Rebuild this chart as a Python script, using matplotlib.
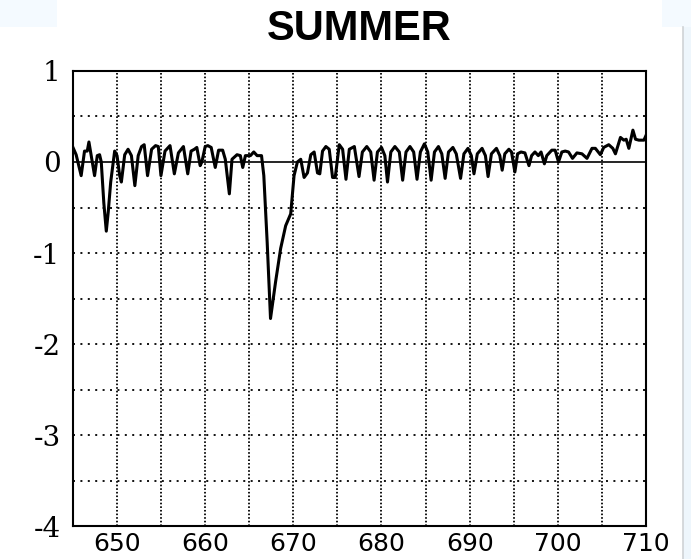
#!/usr/bin/env python3
"""Summer anomaly trace with dotted grid, saved to out.png."""

import matplotlib.pyplot as plt
from matplotlib.lines import Line2D
from matplotlib.patches import Rectangle

# Trace values (x = index, y = anomaly)
xs = [645.0, 645.36, 645.93, 646.31, 646.62, 646.81, 647.07, 647.45, 647.76, 648.02,
      648.21, 648.5, 648.78, 649.0, 649.28, 649.73, 650.0, 650.3, 650.49, 650.87,
      651.25, 651.63, 652.02, 652.4, 652.78, 653.08, 653.46, 653.92, 654.37, 654.68,
      654.98, 655.44, 656.01, 656.5, 656.96, 657.53, 658.02, 658.4, 658.78, 659.05,
      659.43, 659.62, 660.0, 660.3, 660.68, 661.14, 661.52, 661.98, 662.28, 662.74,
      663.04, 663.61, 663.99, 664.26, 664.56, 665.13, 665.51, 665.89, 666.39, 666.65,
      667.03, 667.41, 667.98, 668.56, 669.13, 669.7, 670.08, 670.46, 670.84, 671.22,
      671.6, 671.98, 672.36, 672.74, 673.0, 673.31, 673.69, 674.07, 674.45, 674.75,
      675.21, 675.59, 675.97, 676.35, 676.92,
      677.45, 677.83, 678.33, 678.78, 679.16, 679.54, 680.0, 680.38, 680.68, 681.06,
      681.52, 682.02, 682.4, 682.78, 683.23, 683.65, 684.03, 684.41, 684.87, 685.25,
      685.63, 686.01, 686.46, 686.84, 687.22, 687.6, 688.1, 688.48, 688.97, 689.35,
      689.81, 690.19, 690.49, 690.87, 691.41, 691.79, 692.09, 692.47, 693.04, 693.42,
      693.69, 693.99, 694.45, 694.75, 695.13, 695.44, 695.82, 696.27, 696.73, 697.03,
      697.41, 697.79, 698.1, 698.48, 698.75, 699.32, 699.7, 700.08, 700.46, 700.84,
      701.22, 701.67, 702.17, 702.74, 703.31, 703.88, 704.26, 704.83, 705.21, 705.78,
      706.24, 706.54, 707.11, 707.49, 707.76, 708.06, 708.52, 708.82, 709.2, 709.77,
      710.0]
ys = [0.16, 0.08, -0.15, 0.12, 0.12, 0.22, 0.07, -0.15, 0.07, 0.08,
      0.0, -0.45, -0.76, -0.55, -0.22, 0.12, 0.07, -0.15, -0.22, 0.08,
      0.14, 0.07, -0.26, 0.07, 0.17, 0.19, -0.15, 0.14, 0.18, 0.17,
      -0.15, 0.12, 0.18, -0.13, 0.10, 0.17, -0.13, 0.12, 0.14, 0.16,
      -0.04, 0.0, 0.17, 0.18, 0.16, -0.06, 0.13, 0.13, 0.03, -0.35,
      0.03, 0.08, 0.07, -0.06, 0.07, 0.07, 0.11, 0.07, 0.07, -0.15,
      -0.88, -1.72, -1.32, -0.95, -0.70, -0.57, -0.15, 0.0, 0.03, -0.17,
      -0.12, 0.08, 0.11, -0.12, -0.13, 0.12, 0.17, 0.14, -0.17, -0.17,
      0.19, 0.14, -0.19, 0.14, 0.17,
      -0.16, 0.11, 0.17, 0.11, -0.20, 0.11, 0.16, 0.07, -0.22, 0.11,
      0.17, 0.11, -0.20, 0.11, 0.17, 0.11, -0.19, 0.11, 0.20, 0.11,
      -0.20, 0.11, 0.17, 0.09, -0.18, 0.11, 0.16, 0.09, -0.18, 0.09,
      0.15, 0.07, -0.13, 0.09, 0.15, 0.07, -0.16, 0.09, 0.15, 0.07,
      -0.09, 0.09, 0.14, 0.11, -0.11, 0.09, 0.11, 0.10, -0.04, 0.07,
      0.11, 0.07, 0.11, -0.02, 0.07, 0.13, 0.13, 0.0, 0.11, 0.12,
      0.11, 0.04, 0.10, 0.09, 0.04, 0.15, 0.15, 0.08, 0.16, 0.19,
      0.15, 0.09, 0.27, 0.24, 0.25, 0.15, 0.35, 0.25, 0.24, 0.24,
      0.29]

x_ticks = [650, 660, 670, 680, 690, 700, 710]
x_grid = [650, 655, 660, 665, 670, 675, 680, 685, 690, 695, 700, 705]
y_ticks = [-4, -3, -2, -1, 0, 1]
y_grid = [-3.5, -3, -2.5, -2, -1.5, -1, -0.5, 0.5]

plt.rcParams["axes.unicode_minus"] = False

fig = plt.figure(figsize=(6.91, 5.59), dpi=100)

# pale frame pieces around the plot
fig.patches.append(Rectangle((0, 0.952), 0.0825, 0.048, transform=fig.transFigure,
                             facecolor="#f4faff", edgecolor="none", zorder=0))
fig.patches.append(Rectangle((0.958, 0.952), 0.042, 0.048, transform=fig.transFigure,
                             facecolor="#f4faff", edgecolor="none", zorder=0))
fig.patches.append(Rectangle((0.989, 0), 0.011, 0.952, transform=fig.transFigure,
                             facecolor="#eef6fc", edgecolor="none", zorder=0))
fig.lines.append(Line2D([0.9885, 0.9885], [0, 0.951], transform=fig.transFigure,
                        color="#cfd3d6", linewidth=1.2))

ax = fig.add_axes([0.1056, 0.059, 0.8292, 0.814])

# dotted grid: tight dots on verticals, sparse dots on horizontals
for gx in x_grid:
    ax.axvline(gx, color="black", linewidth=1.3, linestyle=(0, (0.9, 1.1)), zorder=1)
for gy in y_grid:
    ax.axhline(gy, color="black", linewidth=1.3, linestyle=(0, (1.1, 3.0)), zorder=1)
ax.axhline(0, color="black", linewidth=1.2, zorder=2)

ax.plot(xs, ys, color="black", linewidth=2.2, zorder=3)

ax.set_xlim(645, 710)
ax.set_ylim(-4, 1)
ax.set_xticks(x_ticks)
ax.set_yticks(y_ticks)
ax.tick_params(length=0)
ax.tick_params(axis="x", pad=4, labelsize=18)
ax.tick_params(axis="y", pad=9, labelsize=20)
for lab in ax.get_yticklabels():
    lab.set_family("DejaVu Serif")
for lab in ax.get_xticklabels():
    lab.set_family("DejaVu Sans")

for sp in ax.spines.values():
    sp.set_linewidth(1.5)
    sp.set_color("black")

ax.set_title("SUMMER", fontsize=30, fontweight="bold", family="Liberation Sans", pad=22)

plt.savefig("out.png", dpi=100)
